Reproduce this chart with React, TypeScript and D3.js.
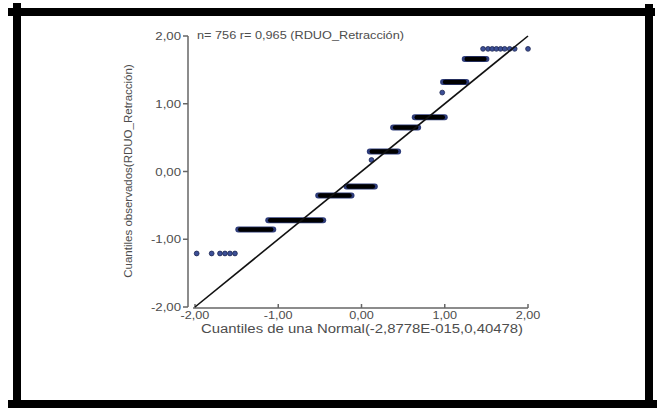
import React, { useEffect, useRef } from 'react';
import * as d3 from 'd3';

// axis ticks
const tickValues = [-2, -1, 0, 1, 2];
const tickLabels = ['-2,00', '-1,00', '0,00', '1,00', '2,00'];

// runs of overlapping points: observed level, expected quantile from / to
const runLevels = [-0.855, -0.72, -0.355, -0.22, 0.295, 0.65, 0.8, 1.32, 1.66];
const runStarts = [-1.48, -1.12, -0.52, -0.18, 0.1, 0.38, 0.64, 0.98, 1.24];
const runEnds = [-1.06, -0.46, -0.12, 0.16, 0.44, 0.68, 1.0, 1.26, 1.5];

// single points (expected, observed)
const dotX = [-1.98, -1.8, -1.7, -1.64, -1.58, -1.52, 0.12, 0.97, 1.46, 1.52, 1.57, 1.62, 1.67, 1.72, 1.78, 1.84, 2.0];
const dotY = [-1.21, -1.21, -1.21, -1.21, -1.21, -1.21, 0.17, 1.165, 1.81, 1.81, 1.81, 1.81, 1.81, 1.81, 1.81, 1.81, 1.81];

const headerText = 'n= 756 r= 0,965 (RDUO_Retracción)';
const xTitle = 'Cuantiles de una Normal(-2,8778E-015,0,40478)';
const yTitle = 'Cuantiles observados(RDUO_Retracción)';

const App = () => {
  const ref = useRef<SVGSVGElement | null>(null);

  useEffect(() => {
    const svg = d3.select(ref.current);
    svg.selectAll('*').remove();

    const font = '"Liberation Sans", Arial, sans-serif';
    const textColor = '#4d4d4d';
    const axisColor = '#666';
    const stretch = 1.15; // the picture is a bit wider than tall

    const x = d3.scaleLinear().domain([-2, 2]).range([195, 528]);
    const y = d3.scaleLinear().domain([-2, 2]).range([307, 36]);

    svg.append('rect').attr('width', 657).attr('height', 408).attr('fill', '#fff');

    // frame
    const frame = svg.append('g').attr('fill', '#000');
    frame.append('rect').attr('x', 8).attr('y', 8).attr('width', 647).attr('height', 8);
    frame.append('rect').attr('x', 13).attr('y', 3).attr('width', 8).attr('height', 405);
    frame.append('rect').attr('x', 645).attr('y', 4).attr('width', 8).attr('height', 404);
    frame.append('rect').attr('x', 8).attr('y', 400).attr('width', 649).attr('height', 8);

    // y axis
    const gy = svg.append('g').attr('stroke', axisColor).attr('stroke-width', 1.5);
    gy.append('line').attr('x1', 188).attr('x2', 188).attr('y1', y(2)).attr('y2', y(-2));
    gy.selectAll('line.t')
      .data(tickValues)
      .join('line')
      .attr('class', 't')
      .attr('x1', 183)
      .attr('x2', 188)
      .attr('y1', (d) => y(d))
      .attr('y2', (d) => y(d));
    svg.append('g')
      .selectAll('text')
      .data(tickValues)
      .join('text')
      .attr('transform', (d) => `translate(181,${y(d) + 4}) scale(${stretch},1)`)
      .attr('text-anchor', 'end')
      .attr('font-family', font)
      .attr('font-size', 11.5)
      .attr('fill', textColor)
      .text((d, i) => tickLabels[i]);

    // x axis
    const gx = svg.append('g').attr('stroke', axisColor).attr('stroke-width', 1.5);
    gx.append('line').attr('x1', 193).attr('x2', x(2)).attr('y1', 308).attr('y2', 308);
    gx.selectAll('line.t')
      .data(tickValues)
      .join('line')
      .attr('class', 't')
      .attr('x1', (d) => x(d))
      .attr('x2', (d) => x(d))
      .attr('y1', 304)
      .attr('y2', 308);
    svg.append('g')
      .selectAll('text')
      .data(tickValues)
      .join('text')
      .attr('transform', (d) => `translate(${x(d)},319) scale(${stretch},1)`)
      .attr('text-anchor', 'middle')
      .attr('font-family', font)
      .attr('font-size', 11)
      .attr('fill', textColor)
      .text((d, i) => tickLabels[i]);

    // titles
    svg.append('text')
      .attr('x', 201)
      .attr('y', 333)
      .attr('textLength', 322)
      .attr('lengthAdjust', 'spacingAndGlyphs')
      .attr('font-family', font)
      .attr('font-size', 12)
      .attr('fill', textColor)
      .text(xTitle);
    svg.append('text')
      .attr('transform', 'translate(132,171) rotate(-90)')
      .attr('text-anchor', 'middle')
      .attr('font-family', font)
      .attr('font-size', 11.5)
      .attr('fill', textColor)
      .text(yTitle);
    svg.append('text')
      .attr('x', 197)
      .attr('y', 39)
      .attr('textLength', 207)
      .attr('lengthAdjust', 'spacingAndGlyphs')
      .attr('font-family', font)
      .attr('font-size', 11.5)
      .attr('fill', textColor)
      .text(headerText);

    // single points
    svg.append('g')
      .selectAll('circle')
      .data(dotX)
      .join('circle')
      .attr('cx', (d) => x(d))
      .attr('cy', (d, i) => y(dotY[i]))
      .attr('r', 2.4)
      .attr('fill', '#3c4f96')
      .attr('stroke', '#1b2450')
      .attr('stroke-width', 0.8);

    // runs of overlapping points
    const runs = svg.append('g').attr('stroke-linecap', 'round');
    runs.selectAll('line.edge')
      .data(runLevels)
      .join('line')
      .attr('class', 'edge')
      .attr('x1', (d, i) => x(runStarts[i]))
      .attr('x2', (d, i) => x(runEnds[i]))
      .attr('y1', (d) => y(d))
      .attr('y2', (d) => y(d))
      .attr('stroke', '#2f3d7a')
      .attr('stroke-width', 6);
    runs.selectAll('line.core')
      .data(runLevels)
      .join('line')
      .attr('class', 'core')
      .attr('x1', (d, i) => x(runStarts[i]) + 2)
      .attr('x2', (d, i) => x(runEnds[i]) - 2)
      .attr('y1', (d) => y(d))
      .attr('y2', (d) => y(d))
      .attr('stroke', '#000')
      .attr('stroke-width', 4.5);

    // reference line
    const line = d3.line<number>().x((d) => x(d)).y((d) => y(d));
    svg.append('path')
      .attr('d', line([-2, 2]))
      .attr('fill', 'none')
      .attr('stroke', '#111')
      .attr('stroke-width', 1.6);
  }, []);

  return (
    <svg
      ref={ref}
      width={657}
      height={408}
      style={{ position: 'absolute', left: 0, top: 0, display: 'block' }}
    />
  );
};

export default App;
